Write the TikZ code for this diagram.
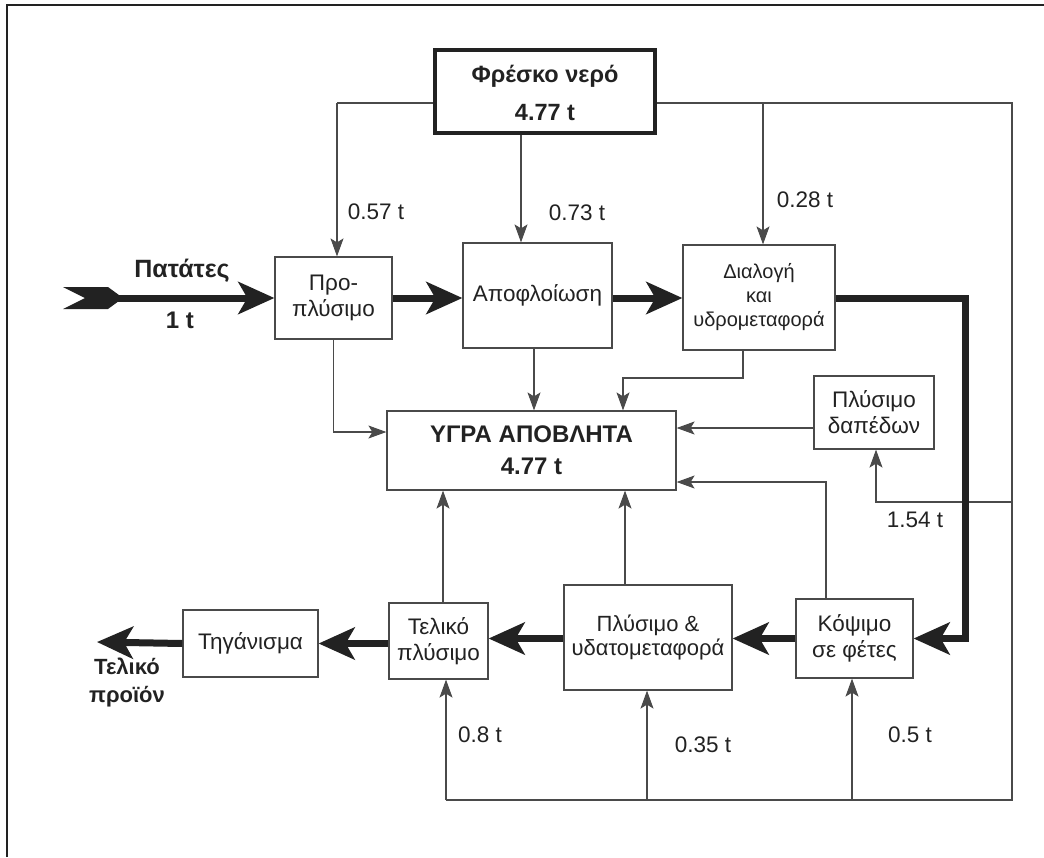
\documentclass[tikz,border=0pt]{standalone}
\usepackage{fontspec}
\setmainfont{Liberation Sans}
\usetikzlibrary{arrows.meta,calc}
\definecolor{ln}{HTML}{4A4A4A}
\definecolor{ink}{HTML}{222222}
\tikzset{
 box/.style={draw=ln, line width=1.2pt, fill=white, inner sep=0pt, align=center, font=\fontsize{22.5}{26}\selectfont, text=ink},
 thinln/.style={draw=ln, line width=1.1pt},
 thinarr/.style={thinln, -{Stealth[length=18pt,width=13pt,inset=4pt]}},
 thickarr/.style={draw=ink, line width=7pt, line join=miter, -{Stealth[length=36pt,width=32pt,inset=9pt]}},
 lbl/.style={font=\fontsize{22.5}{26}\selectfont, text=ink, inner sep=0pt},
 blbl/.style={font=\bfseries\fontsize{22}{26}\selectfont, text=ink, inner sep=0pt, align=center},
}
\begin{document}
\begin{tikzpicture}[x=1pt,y=-1pt]
\useasboundingbox (0,0) rectangle (1044,857);
\fill[white] (0,0) rectangle (1044,857);
% partial frame
\draw[draw=ink, line width=1.5pt] (7,857) -- (7,5) -- (1044,5);

% coordinates
\coordinate (wl) at (337,103);
\coordinate (wr) at (1012,103);
\coordinate (xa) at (521,0);
\coordinate (xd) at (763,0);
\coordinate (bl) at (446,800);
\coordinate (br) at (1012,800);
\coordinate (xp) at (647,0);
\coordinate (xk) at (852,0);
\coordinate (f154) at (1012,502);
\coordinate (src) at (115,298);
\coordinate (out) at (97,642);

% thin water lines (behind boxes)
\draw[thinln] (wl) -- (wr) -- (br) -- (bl);

% boxes
\node[box, line width=4pt, draw=ink, minimum width=220pt, minimum height=83pt] (fresh) at (545,91.5) {};
\node[blbl, font=\bfseries\fontsize{23.5}{38}\selectfont] (freshtxt) at (545,93) {Φρέσκο νερό\\4.77 t};
\node[box, minimum width=117pt, minimum height=82pt] (pro) at (333.5,298) {Προ-\\πλύσιμο};
\node[box, minimum width=149pt, minimum height=105pt] (apo) at (537.5,295.5) {Αποφλοίωση};
\node[box, minimum width=152pt, minimum height=105pt, font=\fontsize{20}{24}\selectfont] (dia) at (759,297.5) {Διαλογή\\και\\υδρομεταφορά};
\node[box, minimum width=289pt, minimum height=79pt, font=\bfseries\fontsize{24}{32}\selectfont] (ygra) at (531.5,450.5) {ΥΓΡΑ ΑΠΟΒΛΗΤΑ\\4.77 t};
\node[box, minimum width=120pt, minimum height=73pt] (dap) at (874,412.5) {Πλύσιμο\\δαπέδων};
\node[box, minimum width=117pt, minimum height=79pt] (kop) at (854.5,638.5) {Κόψιμο\\σε φέτες};
\node[box, minimum width=168pt, minimum height=105pt, font=\fontsize{22}{24}\selectfont] (ply) at (648,637.5) {Πλύσιμο \&\\υδατομεταφορά};
\node[box, minimum width=99pt, minimum height=76pt] (tel) at (438.5,641) {Τελικό\\πλύσιμο};
\node[box, minimum width=135pt, minimum height=67pt] (tig) at (250.5,643.5) {Τηγάνισμα};

% fresh water feeds
\draw[thinarr] (wl) -- (pro.north -| wl);
\draw[thinarr] (fresh.south -| xa) -- (apo.north -| xa);
\draw[thinarr] (wr -| xd) -- (dia.north -| xd);
\draw[thinarr] (bl) -- (tel.south -| bl);
\draw[thinarr] (bl -| xp) -- (ply.south -| xp);
\draw[thinarr] (bl -| xk) -- (kop.south -| xk);
\draw[thinarr] (f154) -| (dap.south -| 876,0);

% waste water
\draw[thinarr] (pro.south) |- (ygra.west |- 0,432);
\draw[thinarr] (apo.south -| 534,0) -- (ygra.north -| 534,0);
\draw[thinarr] (dia.south -| 743,0) |- (700,378) -| (ygra.north -| 623,0);
\draw[thinarr] (dap.west |- 0,428) -- (ygra.east |- 0,428);
\draw[thinarr] (kop.north -| 826,0) |- (ygra.east |- 0,482);
\draw[thinarr] (tel.north -| 443,0) -- (ygra.south -| 443,0);
\draw[thinarr] (ply.north -| 625,0) -- (ygra.south -| 625,0);

% main product flow
\fill[ink] (63,287) -- (108,287) -- (123,298) -- (108,309) -- (63,309) -- (85,298) -- cycle;
\draw[thickarr] (src) -- (pro.west);
\draw[thickarr] (pro.east) -- (apo.west |- pro.east);
\draw[thickarr] (apo.east |- pro.east) -- (dia.west |- pro.east);
\draw[thickarr] (dia.east |- pro.east) -- (965,298) |- (kop.east);
\draw[thickarr] (kop.west) -- (ply.east |- kop.west);
\draw[thickarr] (ply.west |- kop.west) -- (tel.east |- kop.west);
\draw[thickarr] (tel.west |- tig.east) -- (tig.east);
\draw[thickarr] (tig.west) -- (out);

% labels
\node[blbl, font=\bfseries\fontsize{25}{28}\selectfont] (lpat) at (182,271) {Πατάτες};
\node[blbl, font=\bfseries\fontsize{24}{28}\selectfont] (l1t) at (180,320) {1 t};
\node[blbl, font=\bfseries\fontsize{22}{28}\selectfont] (lout) at (127,683) {Τελικό\\προϊόν};
\node[lbl] (l057) at (376,212) {0.57 t};
\node[lbl] (l073) at (577,213) {0.73 t};
\node[lbl] (l028) at (805,200) {0.28 t};
\node[lbl] (l154) at (915,520) {1.54 t};
\node[lbl] (l08) at (480,735) {0.8 t};
\node[lbl] (l035) at (703,745) {0.35 t};
\node[lbl] (l05) at (910,735) {0.5 t};
\end{tikzpicture}
\end{document}
